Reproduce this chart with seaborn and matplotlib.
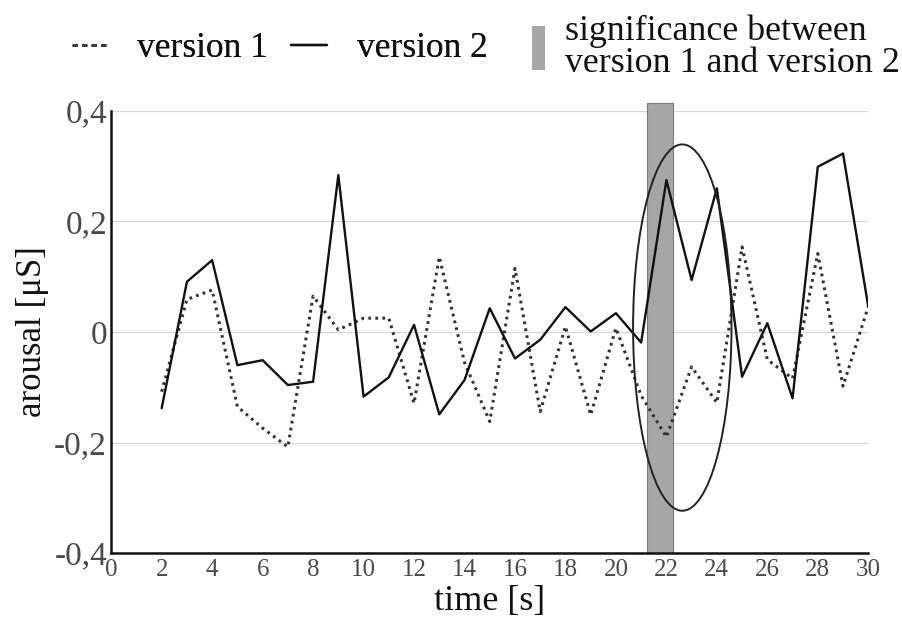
import matplotlib
matplotlib.use("Agg")
import matplotlib.pyplot as plt
import seaborn as sns
import pandas as pd
from matplotlib.lines import Line2D
from matplotlib.patches import Rectangle, Ellipse

# ---- data ----
time_s = list(range(2, 31))
version_1 = [-0.108, 0.059, 0.076, -0.135, -0.174, -0.208, 0.065, 0.004, 0.025, 0.025,
             -0.129, 0.136, -0.055, -0.162, 0.115, -0.144, 0.010, -0.150, 0.007, -0.115,
             -0.190, -0.063, -0.128, 0.154, -0.050, -0.084, 0.142, -0.098, 0.046]
version_2 = [-0.138, 0.091, 0.130, -0.060, -0.051, -0.096, -0.090, 0.284, -0.117, -0.082,
             0.013, -0.149, -0.087, 0.043, -0.048, -0.014, 0.045, 0.001, 0.034, -0.019,
             0.275, 0.094, 0.260, -0.081, 0.016, -0.120, 0.299, 0.323, 0.046]
sig_start, sig_end = 21.22, 22.27
x_ticks = list(range(0, 31, 2))
y_ticks = [-0.4, -0.2, 0.0, 0.2, 0.4]
y_tick_labels = ["-0,4", "-0,2", "0", "0,2", "0,4"]
ellipse_center = (22.63, 0.008)
ellipse_size = (3.9, 0.663)

sns.set_theme(style="white")
plt.rcParams["font.family"] = ["Liberation Serif", "DejaVu Serif"]

fig = plt.figure(figsize=(9.02, 6.27), dpi=100)
ax = fig.add_axes([0.1233, 0.118, 0.8393, 0.705])

df = pd.DataFrame({"time": time_s, "v1": version_1, "v2": version_2})

ax.yaxis.grid(True, color="#d8d8d8", lw=1.0, zorder=0)
ax.set_axisbelow(True)

# significance bar
ax.bar([(sig_start + sig_end) / 2], [0.815], width=sig_end - sig_start, bottom=-0.4,
       color="#a6a6a6", edgecolor="#7a7a7a", linewidth=0.8, clip_on=False, zorder=1)

sns.lineplot(data=df, x="time", y="v1", ax=ax, color="#333333", lw=2.2,
             linestyle=(0, (0.9, 1.4)), zorder=3)
sns.lineplot(data=df, x="time", y="v2", ax=ax, color="#111111", lw=1.7, zorder=4)

ax.add_patch(Ellipse(ellipse_center, ellipse_size[0], ellipse_size[1], fill=False,
                     edgecolor="#222222", lw=1.4, zorder=5))

ax.set_xlim(0, 30)
ax.set_ylim(-0.4, 0.4)
ax.set_xticks(x_ticks)
ax.set_xticklabels([str(t) for t in x_ticks], fontsize=18, color="#4a4a4a")
ax.set_yticks(y_ticks)
ax.set_yticklabels(y_tick_labels, fontsize=24, color="#4a4a4a")
ax.tick_params(axis="both", length=0)
ax.tick_params(axis="x", pad=4)
ax.tick_params(axis="y", pad=3)

for s in ["top", "right"]:
    ax.spines[s].set_visible(False)
for s in ["left", "bottom"]:
    ax.spines[s].set_color("#111111")
    ax.spines[s].set_linewidth(1.8)

ax.set_xlabel("time [s]", fontsize=26, color="#111111", labelpad=3)
ax.set_ylabel("arousal [μS]", fontsize=25, color="#111111", labelpad=4)

# legends
h1 = Line2D([], [], color="#333333", lw=1.8, linestyle=(0, (2.2, 1.6)))
h2 = Line2D([], [], color="#111111", lw=1.7)
leg1 = fig.legend([h1, h2], ["version 1", "version 2"], ncol=2, frameon=False,
                  fontsize=25.5, handlelength=1.0, handletextpad=0.85, columnspacing=0.65,
                  loc="center left", bbox_to_anchor=(0.0797, 0.922), borderpad=0.0,
                  borderaxespad=0.0)
for t in leg1.get_texts():
    t.set_color("#111111")
fig.add_artist(leg1)
h3 = Rectangle((0, 0), 1, 1, facecolor="#a6a6a6", edgecolor="none")
leg2 = fig.legend([h3], ["significance between\nversion 1 and version 2"], frameon=False,
                  fontsize=25.8, handlelength=0.37, handleheight=1.5, handletextpad=0.55,
                  labelspacing=0.0, loc="center left", bbox_to_anchor=(0.59, 0.925),
                  borderpad=0.0, borderaxespad=0.0)
for t in leg2.get_texts():
    t.set_linespacing(0.98)
    t.set_color("#111111")

fig.savefig("out.png", dpi=100)
